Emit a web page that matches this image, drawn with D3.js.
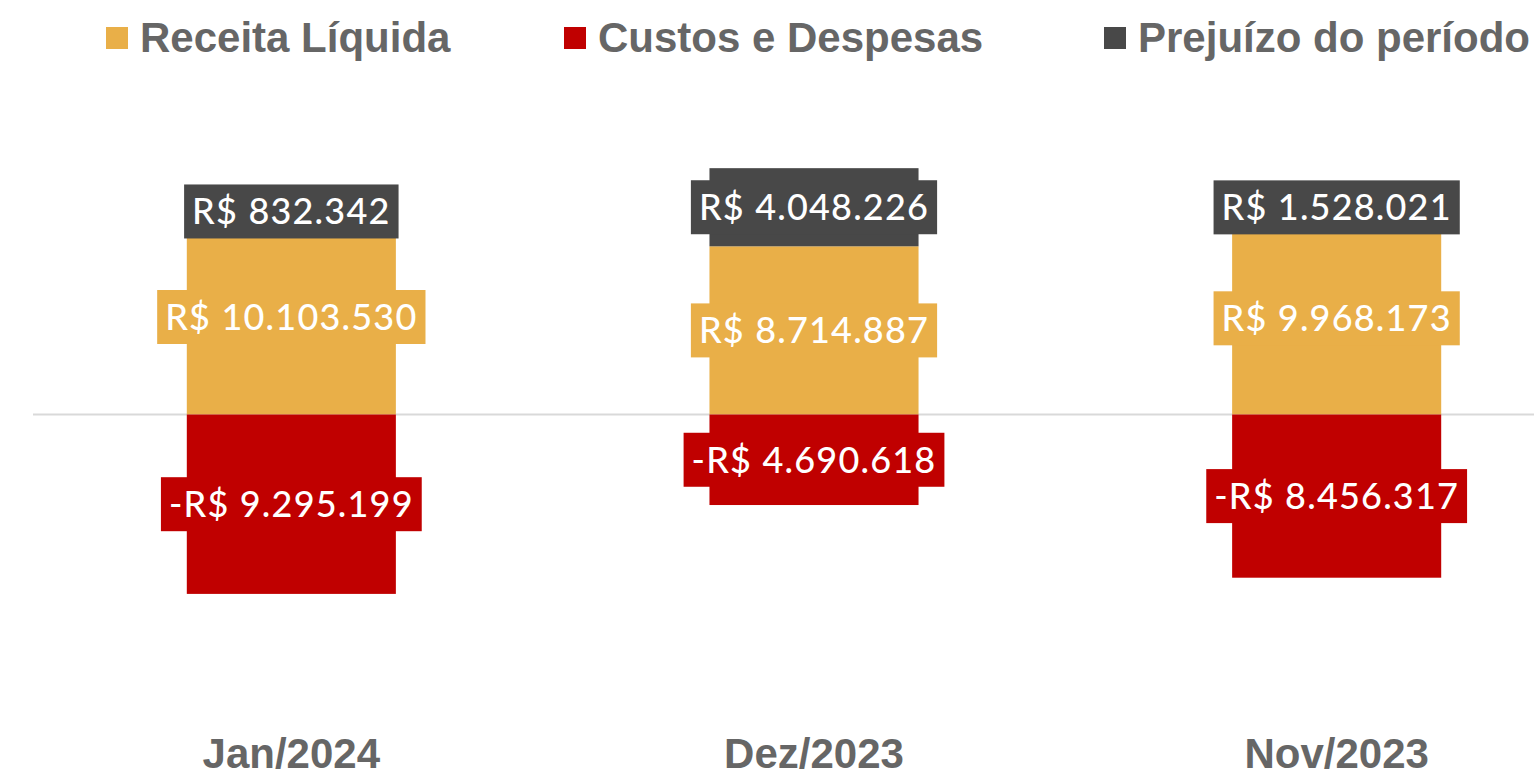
<!DOCTYPE html>
<html>
<head>
<meta charset="utf-8">
<script src="https://cdn.jsdelivr.net/npm/d3@7"></script>
<style>
  html, body { margin: 0; padding: 0; background: #fff; }
  svg { display: block; }
</style>
</head>
<body>
<svg id="chart" width="1534" height="771"></svg>
<script>
// dados do gráfico
const categories = ["Jan/2024", "Dez/2023", "Nov/2023"];
const receita = [10103530, 8714887, 9968173];
const custos = [-9295199, -4690618, -8456317];
const prejuizo = [832342, 4048226, 1528021];

const seriesNames = ["Receita Líquida", "Custos e Despesas", "Prejuízo do período"];
const colors = ["#E9AF48", "#C00000", "#484848"];

const svg = d3.select("#chart");
const W = 1534, H = 771;

// formato em reais
const br = d3.formatLocale({decimal: ",", thousands: ".", grouping: [3], currency: ["R$ ", ""], minus: "-"});
const fmt = br.format("$,.0f");

// escalas
const scX = d3.scaleBand()
    .domain(categories)
    .range([30, 1598])
    .paddingInner(0.6)
    .paddingOuter(0.3);

const scY = d3.scaleLinear()
    .domain([-17e6, 17e6])
    .range([742.6, 86.4]);

// linha do zero
svg.append("line")
    .attr("x1", 33).attr("x2", W)
    .attr("y1", scY(0)).attr("y2", scY(0))
    .attr("stroke", "#d9d9d9")
    .attr("stroke-width", 2);

// segmentos: receita (0 -> receita), prejuízo empilhado sobre a receita, custos para baixo
let segs = [];
categories.forEach((c, i) => {
    segs.push({cat: c, s: 0, y0: 0, y1: receita[i], v: receita[i]});
    segs.push({cat: c, s: 1, y0: 0, y1: custos[i], v: custos[i]});
    segs.push({cat: c, s: 2, y0: receita[i], y1: receita[i] + prejuizo[i], v: prejuizo[i]});
});

svg.selectAll(".bar")
    .data(segs)
    .enter()
    .append("rect")
    .attr("x", d => scX(d.cat))
    .attr("width", scX.bandwidth())
    .attr("y", d => scY(Math.max(d.y0, d.y1)))
    .attr("height", d => Math.abs(scY(d.y0) - scY(d.y1)))
    .attr("fill", d => colors[d.s]);

// rótulos com caixa de fundo
const lab = svg.selectAll(".lab")
    .data(segs)
    .enter()
    .append("g")
    .attr("transform", d => `translate(${scX(d.cat) + scX.bandwidth() / 2}, ${(scY(d.y0) + scY(d.y1)) / 2})`);

lab.append("rect").attr("class", "bg");
lab.append("text")
    .attr("text-anchor", "middle")
    .attr("dy", "0.36em")
    .style("font-family", "Lato, 'Open Sans', sans-serif")
    .style("font-size", "36px")
    .style("font-weight", 500)
    .style("letter-spacing", "1.2px")
    .attr("fill", "#fff")
    .text(d => fmt(d.v));

lab.each(function(d) {
    const g = d3.select(this);
    const bb = g.select("text").node().getBBox();
    const pad = 8;
    g.select("rect")
        .attr("x", bb.x - pad)
        .attr("width", bb.width + 2 * pad)
        .attr("y", -27)
        .attr("height", 54)
        .attr("fill", colors[d.s]);
});

// legenda
const legX = [106, 564, 1104];
const leg = svg.selectAll(".leg")
    .data(seriesNames)
    .enter()
    .append("g")
    .attr("transform", (d, i) => `translate(${legX[i]}, 0)`);

leg.append("rect")
    .attr("x", 0).attr("y", 27)
    .attr("width", 22).attr("height", 22)
    .attr("fill", (d, i) => colors[i]);

leg.append("text")
    .attr("x", 34).attr("y", 52)
    .style("font-family", "'Liberation Sans', Arial, sans-serif")
    .style("font-size", "42px")
    .style("font-weight", "bold")
    .attr("fill", "#666")
    .text(d => d);

// eixo X (apenas rótulos)
svg.selectAll(".xlab")
    .data(categories)
    .enter()
    .append("text")
    .attr("x", d => scX(d) + scX.bandwidth() / 2)
    .attr("y", 768)
    .attr("text-anchor", "middle")
    .style("font-family", "'Liberation Sans', Arial, sans-serif")
    .style("font-size", "42px")
    .style("font-weight", "bold")
    .attr("fill", "#666")
    .text(d => d);
</script>
</body>
</html>
